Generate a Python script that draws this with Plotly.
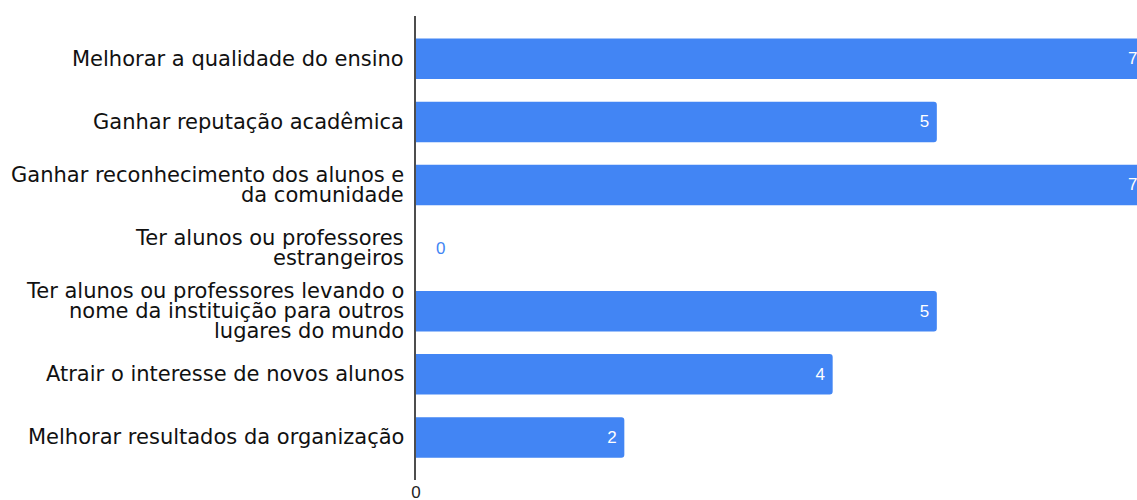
import plotly.graph_objects as go

# Survey answers (top to bottom) and number of responses
categories = [
    "Melhorar a qualidade do ensino",
    "Ganhar reputação acadêmica",
    "Ganhar reconhecimento dos alunos e<br>da comunidade",
    "Ter alunos ou professores<br>estrangeiros",
    "Ter alunos ou professores levando o<br>nome da instituição para outros<br>lugares do mundo",
    "Atrair o interesse de novos alunos",
    "Melhorar resultados da organização",
]
counts = [7, 5, 7, 0, 5, 4, 2]
x_ticks = [0]

BLUE = "#4285F4"
LABEL_FONT = "DejaVu Sans"
VALUE_FONT = "Liberation Sans, Arial, sans-serif"
LINE_STEP = 20  # px between lines of a wrapped category label

fig = go.Figure(
    go.Bar(
        x=counts,
        y=categories,
        orientation="h",
        marker=dict(color=BLUE, cornerradius=3, line=dict(width=0)),
        text=[f"{v}\u00a0" if v > 0 else "" for v in counts],
        textposition="inside",
        insidetextanchor="end",
        insidetextfont=dict(color="white", size=17, family=VALUE_FONT),
        cliponaxis=False,
        hoverinfo="skip",
    )
)

# Zero-valued answers get their label beside the axis, in the bar colour
for cat, v in zip(categories, counts):
    if v == 0:
        fig.add_annotation(
            x=v, y=cat, xref="x", yref="y",
            text=str(v), showarrow=False,
            xanchor="left", xshift=18,
            font=dict(color=BLUE, size=17, family=VALUE_FONT),
        )

# Category labels, one annotation per line so the wrapped lines sit tight
for cat in categories:
    lines = cat.split("<br>")
    n = len(lines)
    for i, line in enumerate(lines):
        fig.add_annotation(
            x=0, y=cat, xref="paper", yref="y",
            text=line, showarrow=False,
            xanchor="right", yanchor="middle",
            xshift=-10, yshift=((n - 1) / 2 - i) * LINE_STEP,
            font=dict(color="#111111", size=21, family=LABEL_FONT),
        )

fig.update_layout(
    width=1166,
    height=500,
    margin=dict(l=416, r=0, t=16, b=20, autoexpand=False),
    plot_bgcolor="white",
    paper_bgcolor="white",
    bargap=0.358,
    showlegend=False,
    xaxis=dict(
        range=[0, 7.2],
        tickvals=x_ticks,
        showgrid=False,
        zeroline=False,
        showline=False,
        ticks="",
        automargin=False,
        ticklabelstandoff=0,
        tickfont=dict(size=17, color="#222222", family=VALUE_FONT),
    ),
    yaxis=dict(
        range=[6.675, -0.678],
        showgrid=False,
        zeroline=False,
        showline=True,
        linecolor="#4d4d4d",
        linewidth=2,
        ticks="",
        automargin=False,
        showticklabels=False,
    ),
)

fig.write_html("out.html")
